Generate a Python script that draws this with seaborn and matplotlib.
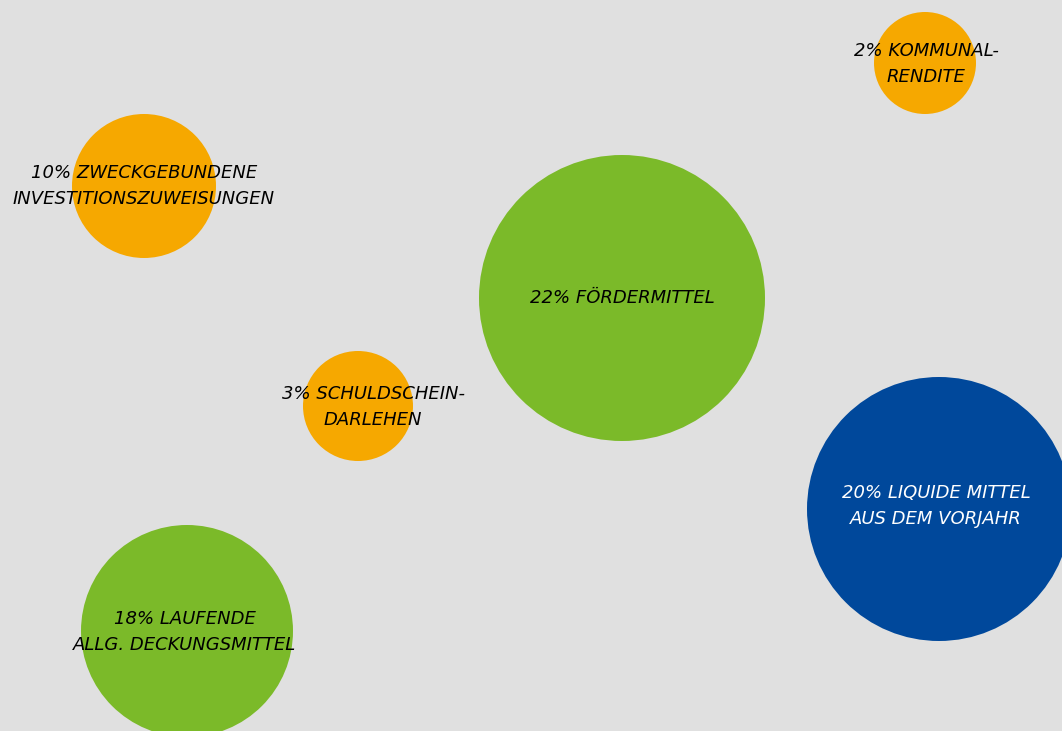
import matplotlib
matplotlib.use("Agg")
import matplotlib.pyplot as plt
import seaborn as sns
import pandas as pd

# ---- data ----
labels = [
    "2% KOMMUNAL-\nRENDITE",
    "10% ZWECKGEBUNDENE\nINVESTITIONSZUWEISUNGEN",
    "22% FÖRDERMITTEL",
    "3% SCHULDSCHEIN-\nDARLEHEN",
    "20% LIQUIDE MITTEL\nAUS DEM VORJAHR",
    "18% LAUFENDE\nALLG. DECKUNGSMITTEL",
]
shares = [2, 10, 22, 3, 20, 18]
bubble_x = [925, 144, 622, 358, 939, 187]
bubble_y = [63, 186, 298, 406, 509, 631]
groups = ["orange", "orange", "green", "orange", "blue", "green"]
label_x = [926, 144, 622, 373, 936, 185]
label_y = [64, 186, 298, 407, 506, 632]

# ---- styles ----
palette = {"orange": "#F6A800", "green": "#7BBA29", "blue": "#00489B"}
text_colors = {"orange": "black", "green": "black", "blue": "white"}
radius_px = {2: 51, 3: 55, 10: 72, 18: 106, 20: 132, 22: 143}
size_map = {k: (2 * r * 0.72) ** 2 for k, r in radius_px.items()}

df = pd.DataFrame({"label": labels, "share": shares, "x": bubble_x,
                   "y": bubble_y, "group": groups})

sns.set_theme(style="white")
W, H = 1062, 731
fig = plt.figure(figsize=(W / 100, H / 100), dpi=100)
fig.patch.set_facecolor("#E0E0E0")
ax = fig.add_axes([0, 0, 1, 1])
ax.set_facecolor("#E0E0E0")

sns.scatterplot(data=df, x="x", y="y", size="share", sizes=size_map,
                hue="group", palette=palette, linewidth=0, legend=False,
                alpha=1, ax=ax)

for lab, lx, ly, g in zip(labels, label_x, label_y, groups):
    ax.text(lx, ly, lab, ha="center", va="center", fontsize=13,
            fontstyle="italic", color=text_colors[g], linespacing=1.6,
            family="DejaVu Sans")

ax.set_xlim(0, W)
ax.set_ylim(H, 0)
ax.axis("off")
fig.savefig("out.png", dpi=100, facecolor=fig.get_facecolor())
